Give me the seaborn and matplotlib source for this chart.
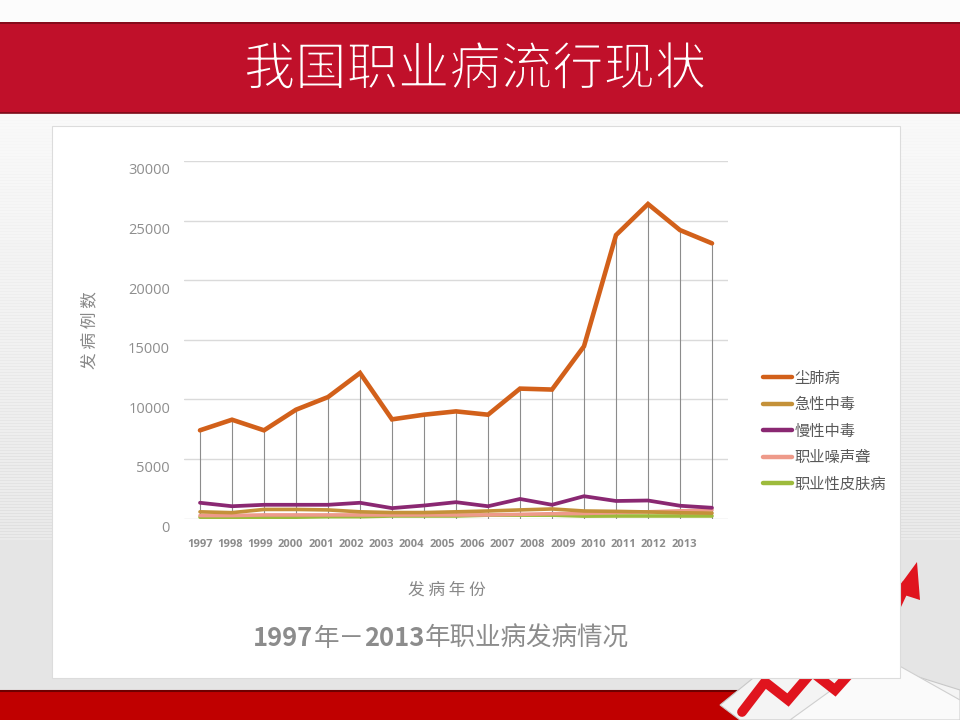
import numpy as np
import pandas as pd
import matplotlib
matplotlib.use("Agg")
import matplotlib.pyplot as plt
import matplotlib.patheffects as pe
import matplotlib.transforms as mtransforms
import seaborn as sns
from matplotlib.patches import Rectangle, Polygon
from matplotlib.offsetbox import TextArea, HPacker, AnnotationBbox

# ---------------- data ----------------
years = ["1997", "1998", "1999", "2000", "2001", "2002", "2003", "2004", "2005",
         "2006", "2007", "2008", "2009", "2010", "2011", "2012", "2013"]
pneumoconiosis = [7400, 8290, 7400, 9130, 10190, 12210, 8320, 8710, 8990, 8710,
                  10900, 10820, 14450, 23780, 26390, 24200, 23090]
acute_poisoning = [560, 490, 760, 760, 720, 560, 500, 500, 560, 630,
                   720, 800, 630, 600, 550, 480, 450]
chronic_poisoning = [1320, 1030, 1150, 1150, 1150, 1320, 870, 1090, 1370, 1030,
                     1640, 1150, 1870, 1470, 1510, 1070, 900]
noise_deafness = [250, 250, 300, 300, 300, 300, 300, 300, 300, 300,
                  350, 400, 420, 500, 560, 640, 720]
skin_disease = [110, 110, 110, 110, 150, 150, 210, 210, 210, 280,
                280, 280, 200, 210, 210, 210, 210]
series_names = ["尘肺病", "急性中毒", "慢性中毒", "职业噪声聋", "职业性皮肤病"]
yticks = [0, 5000, 10000, 15000, 20000, 25000, 30000]

colors = {"尘肺病": "#D2601A", "急性中毒": "#C49139", "慢性中毒": "#8A2872",
          "职业噪声聋": "#EE9A8A", "职业性皮肤病": "#9DBB3C"}
widths = {"尘肺病": 3.3, "急性中毒": 2.6, "慢性中毒": 2.7,
          "职业噪声聋": 2.6, "职业性皮肤病": 2.6}

idx = np.arange(len(years))
df = pd.DataFrame({
    "idx": np.tile(idx, 5),
    "value": pneumoconiosis + acute_poisoning + chronic_poisoning + noise_deafness + skin_disease,
    "disease": np.repeat(series_names, len(years)),
})

sns.set_theme(style="white")
plt.rcParams["font.family"] = ["Noto Sans CJK SC", "DejaVu Sans"]

W, H = 960, 720
fig = plt.figure(figsize=(9.6, 7.2), dpi=100)

# ---------------- slide background ----------------
bg = fig.add_axes([0, 0, 1, 1], zorder=0)
bg.set_xlim(0, W)
bg.set_ylim(H, 0)
bg.axis("off")
arr = np.full((H, W), 0.89)
arr[:113] = 0.985
for r in range(113, 540):
    t = (r - 113) / 427.0
    base = 0.975 - 0.06 * t
    if r % 3 == 0:
        base -= 0.035 * t + 0.005
    arr[r] = base
arr[540:] = 0.895
bg.imshow(arr, cmap="gray", vmin=0, vmax=1, extent=(0, W, H, 0), aspect="auto",
          interpolation="nearest", zorder=0)

# top red bar
bg.add_patch(Rectangle((0, 22), W, 91, fc="#C0102A", ec="none", zorder=1))
bg.plot([0, W], [22.5, 22.5], color="#7A0A18", lw=1.2, zorder=2)
bg.plot([0, W], [112.5, 112.5], color="#7A0A18", lw=1.2, zorder=2)
bg.text(475, 70, "我国职业病流行现状", color="white", fontsize=37, weight="light",
        ha="center", va="center", zorder=3,
        path_effects=[pe.Normal(), pe.Stroke(linewidth=1.2, foreground="#C0102A")])

# bottom red bar
bg.add_patch(Rectangle((0, 691), W, 29, fc="#C00000", ec="none", zorder=1))
bg.plot([0, W], [691, 691], color="#6E0000", lw=1.5, zorder=2)

# decorative papers + red arrow (bottom right)
bg.add_patch(Polygon([[720, 705], [800, 640], [960, 690], [960, 720], [740, 720]],
                     closed=True, fc="#F4F4F4", ec="#C8C8C8", lw=0.8, zorder=3))
bg.add_patch(Polygon([[790, 720], [880, 655], [960, 700], [960, 720]],
                     closed=True, fc="#FAFAFA", ec="#CFCFCF", lw=0.8, zorder=3))
bg.plot([742, 765, 788, 812, 835, 880, 906], [712, 682, 700, 672, 690, 640, 585],
        color="#E0141E", lw=7, solid_joinstyle="miter", zorder=4)
bg.add_patch(Polygon([[895, 592], [917, 562], [920, 600]], closed=True,
                     fc="#E0141E", ec="none", zorder=4))

# white panel
bg.add_patch(Rectangle((52, 126), 848, 552, fc="white", ec="#DCDCDC", lw=0.8, zorder=5))

# ---------------- chart ----------------
x0, x1 = 184, 728
ybot, ytop = 518.5, 161
ax = fig.add_axes([x0 / W, 1 - ybot / H, (x1 - x0) / W, (ybot - ytop) / H], zorder=2)
ax.set_facecolor("none")

# drop lines from the top series to the axis
ax.vlines(idx, 0, pneumoconiosis, color="#8C8C8C", lw=0.8, zorder=1)

draw_order = ["职业性皮肤病", "职业噪声聋", "急性中毒", "慢性中毒", "尘肺病"]
for name in draw_order:
    sub = df[df["disease"] == name]
    sns.lineplot(data=sub, x="idx", y="value", color=colors[name], lw=widths[name],
                 ax=ax, legend=False, zorder=3, solid_joinstyle="miter")
for ln in ax.get_lines():
    ln.set_clip_on(False)

ax.set_xlim(-0.5, 16.5)
ax.set_ylim(0, 30000)
ax.set_yticks(yticks)
ax.set_yticklabels([str(v) for v in yticks], family=["Open Sans", "DejaVu Sans"],
                   fontsize=10.5, color="#8E8E8E")
ax.set_xticks(idx * 0.945)
ax.set_xticklabels(years, family=["Open Sans", "DejaVu Sans"], fontsize=8,
                   weight="bold", color="#8C8C8C")
ax.tick_params(axis="y", length=0, pad=10)
ax.tick_params(axis="x", length=0, pad=15)
ax.grid(axis="y", color="#DADADA", lw=1)
ax.grid(axis="x", visible=False)
for s in ax.spines.values():
    s.set_visible(False)
ax.set_xlabel("")
ax.set_ylabel("")
shift = mtransforms.ScaledTranslation(0, -0.08, fig.dpi_scale_trans)
for lab in ax.get_yticklabels():
    lab.set_transform(lab.get_transform() + shift)

# axis titles
fig.text(90 / W, 1 - 330 / H, "发 病 例 数", rotation=90, ha="center", va="center",
         fontsize=12, color="#888888", weight="light")
fig.text(447 / W, 1 - 590 / H, "发 病 年 份", ha="center", va="center",
         fontsize=12, color="#888888", weight="light")

# chart caption with bold digits
parts = [("1997", "bold"), ("年－", "normal"), ("2013", "bold"), ("年职业病发病情况", "normal")]
boxes = [TextArea(t, textprops=dict(fontsize=18.4, color="#8C8C8C", weight=w)) for t, w in parts]
pack = HPacker(children=boxes, align="baseline", pad=0, sep=0)
ab = AnnotationBbox(pack, (441 / W, 1 - 638 / H), xycoords="figure fraction",
                    frameon=False, box_alignment=(0.5, 0.5))
fig.add_artist(ab)

# legend
handles = [plt.Line2D([], [], color=colors[n], lw=3.2) for n in series_names]
leg = fig.legend(handles, series_names, loc="upper left",
                 bbox_to_anchor=(749 / W, 1 - 356 / H), frameon=False,
                 fontsize=11, handlelength=1.9, handletextpad=0.2,
                 labelspacing=0.62)
for t in leg.get_texts():
    t.set_color("#595959")

fig.savefig("out.png", dpi=100)
